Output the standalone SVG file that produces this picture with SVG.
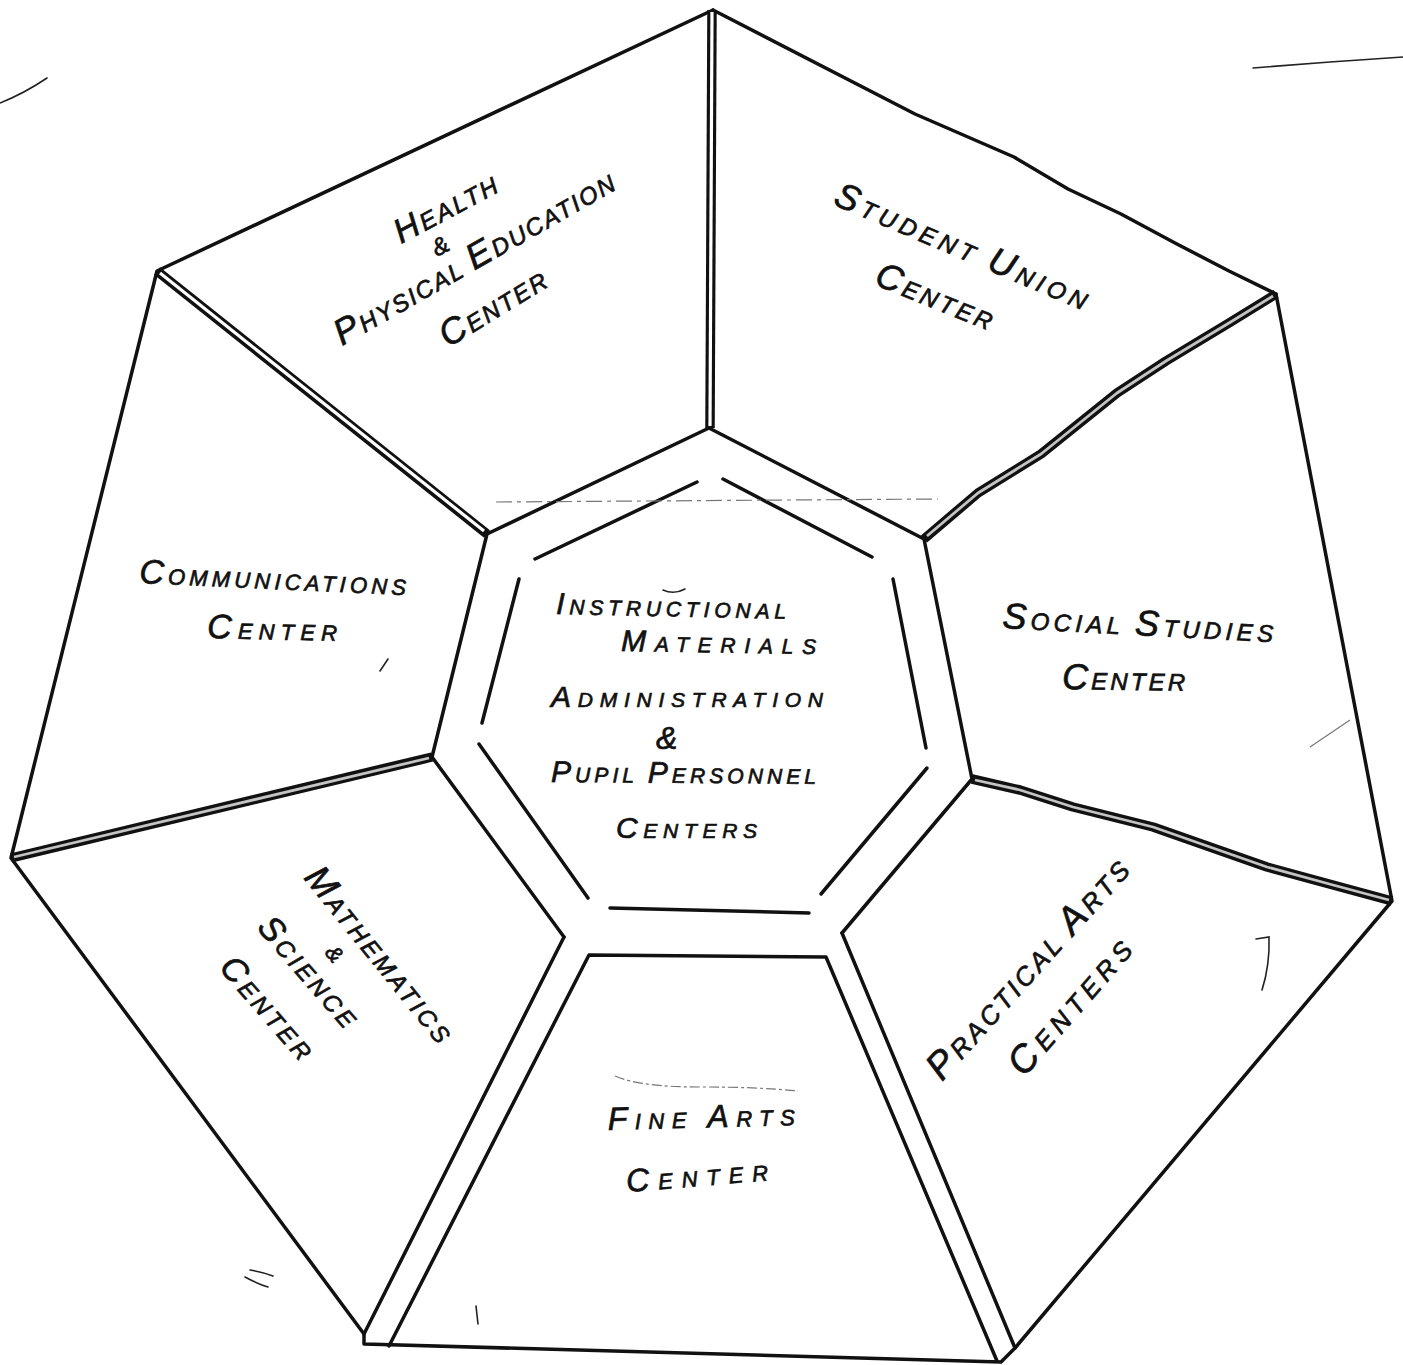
<svg xmlns="http://www.w3.org/2000/svg" width="1403" height="1365" viewBox="0 0 1403 1365">
<style>
.edge{fill:none;stroke:#111;stroke-width:3.5;stroke-linejoin:round;stroke-linecap:round}
.wall{fill:none;stroke:#111;stroke-width:9.5;stroke-linejoin:round}
.gap{fill:none;stroke:#fff;stroke-width:3.2;stroke-linejoin:round}
.gapg{fill:none;stroke:#c4c4c4;stroke-width:2.8;stroke-linejoin:round}
.mark{fill:none;stroke:#222;stroke-width:1.6;stroke-linecap:round}
.faint{fill:none;stroke:#777;stroke-width:1.2}
.lbl{font-family:"Liberation Sans",Arial,sans-serif;font-style:italic;fill:#111;stroke:#111;stroke-width:0.7}
.s21{font-size:21px}.s22{font-size:22px}.s24{font-size:24px}.s26{font-size:26px}
.b30{font-size:30px}.b32{font-size:32px}.b34{font-size:34px}.b36{font-size:36px}.b38{font-size:38px}
</style>
<rect width="1403" height="1365" fill="#fff"/>

<g id="outline">
  <polyline class="edge" points="713,10 915,114 1014,157 1068,189 1121,214 1175,243 1229,271 1276,294"/>
  <polyline class="edge" points="1276,294 1392,901 1015,1348 1001,1362 364,1344 364,1334 11,858 157,271 713,10"/>
</g>

<g id="center-block">
  <polyline class="edge" points="564,937 432,757 487,534 709,428 924,539 972,779 842,933"/>
  <g id="inner-ring">
    <line class="edge" x1="535" y1="559" x2="697" y2="482"/>
    <line class="edge" x1="723" y1="479" x2="872" y2="557"/>
    <line class="edge" x1="519" y1="579" x2="482" y2="723"/>
    <line class="edge" x1="893" y1="579" x2="926" y2="748"/>
    <line class="edge" x1="479" y1="744" x2="588" y2="898"/>
    <line class="edge" x1="927" y1="768" x2="821" y2="894"/>
    <line class="edge" x1="610" y1="908" x2="809" y2="913"/>
  </g>
</g>

<g id="corridors">
  <line class="edge" x1="564" y1="937" x2="364" y2="1334"/>
  <line class="edge" x1="842" y1="933" x2="1015" y2="1348"/>
  <polyline class="edge" points="389,1346 589,955 826,957 997,1361"/>
</g>

<g id="walls">
  <line class="wall" x1="712" y1="10" x2="710" y2="428"/>
  <line class="gap" x1="712" y1="12" x2="710" y2="426"/>
  <line class="wall" x1="157" y1="271" x2="487" y2="534"/>
  <line class="gap" x1="160" y1="273" x2="484" y2="531"/>
  <line class="wall" x1="11" y1="858" x2="432" y2="757"/>
  <line class="gapg" x1="14" y1="857" x2="429" y2="758"/>
  <polyline class="wall" points="1276,294 1229,323 1166,361 1117,393 1041,454 978,493 924,539"/>
  <polyline class="gapg" points="1273,296 1229,323 1166,361 1117,393 1041,454 978,493 927,536"/>
  <polyline class="wall" points="972,779 1020,790 1073,807 1153,827 1210,847 1267,867 1333,885 1392,901"/>
  <polyline class="gapg" points="975,780 1020,790 1073,807 1153,827 1210,847 1267,867 1333,885 1389,900"/>
</g>

<g id="marks">
  <path class="mark" d="M0,103 Q25,93 47,78"/>
  <path class="mark" d="M1253,68 L1330,62 L1403,57"/>
  <line class="faint" x1="496" y1="502" x2="938" y2="499" stroke-dasharray="16 5 4 5"/>
  <path class="faint" d="M615,1076 Q640,1087 700,1087 T798,1091" stroke-dasharray="10 3 3 3"/>
  <path class="mark" d="M1256,939 L1269,937 Q1270,965 1262,990"/>
  <line class="mark" x1="380" y1="671" x2="388" y2="659"/>
  <line class="faint" x1="1310" y1="747" x2="1350" y2="720"/>
  <path class="mark" d="M245,1277 Q258,1284 268,1287 M250,1270 Q262,1272 273,1276"/>
  <line class="mark" x1="476" y1="1306" x2="478" y2="1324"/>
  <path class="mark" d="M663,590 Q674,595 685,589"/>
</g>

<g id="health-pe">
  <text class="lbl s24" transform="translate(401,244) rotate(-28)" textLength="112" lengthAdjust="spacing"><tspan class="b34">H</tspan>EALTH</text>
  <text class="lbl s24" transform="translate(437,257) rotate(-28)">&amp;</text>
  <text class="lbl s24" transform="translate(342,346) rotate(-29.7)" textLength="317" lengthAdjust="spacing"><tspan class="b36">P</tspan>HYSICAL <tspan class="b36">E</tspan>DUCATION</text>
  <text class="lbl s24" transform="translate(448,348) rotate(-31.5)" textLength="119" lengthAdjust="spacing"><tspan class="b36">C</tspan>ENTER</text>
</g>

<g id="student-union">
  <text class="lbl s24" transform="translate(832,204) rotate(23)" textLength="272" lengthAdjust="spacing"><tspan class="b36">S</tspan>TUDENT <tspan class="b36">U</tspan>NION</text>
  <text class="lbl s24" transform="translate(873,284) rotate(22)" textLength="124" lengthAdjust="spacing"><tspan class="b36">C</tspan>ENTER</text>
</g>

<g id="communications">
  <text class="lbl s22" transform="translate(139,583) rotate(2.6)" textLength="267" lengthAdjust="spacing"><tspan class="b34">C</tspan>OMMUNICATIONS</text>
  <text class="lbl s22" transform="translate(207,638) rotate(1.3)" textLength="130" lengthAdjust="spacing"><tspan class="b34">C</tspan>ENTER</text>
</g>

<g id="social-studies">
  <text class="lbl s24" transform="translate(1002,628) rotate(3)" textLength="271" lengthAdjust="spacing"><tspan class="b36">S</tspan>OCIAL <tspan class="b36">S</tspan>TUDIES</text>
  <text class="lbl s24" transform="translate(1062,689) rotate(0.8)" textLength="123" lengthAdjust="spacing"><tspan class="b36">C</tspan>ENTER</text>
</g>

<g id="central">
  <text class="lbl s21" transform="translate(556,614) rotate(1.2)" textLength="230" lengthAdjust="spacing"><tspan class="b30">I</tspan>NSTRUCTIONAL</text>
  <text class="lbl s21" transform="translate(621,651) rotate(0.9)" textLength="195" lengthAdjust="spacing"><tspan class="b30">M</tspan>ATERIALS</text>
  <text class="lbl s21" transform="translate(551,707)" textLength="272" lengthAdjust="spacing"><tspan class="b30">A</tspan>DMINISTRATION</text>
  <text class="lbl b32" x="656" y="749">&amp;</text>
  <text class="lbl s21" transform="translate(551,782) rotate(0.4)" textLength="265" lengthAdjust="spacing"><tspan class="b30">P</tspan>UPIL <tspan class="b30">P</tspan>ERSONNEL</text>
  <text class="lbl s21" transform="translate(616,838)" textLength="141" lengthAdjust="spacing"><tspan class="b30">C</tspan>ENTERS</text>
</g>

<g id="math-science">
  <text class="lbl s24" transform="translate(303,878) rotate(51)" textLength="215" lengthAdjust="spacing"><tspan class="b36">M</tspan>ATHEMATICS</text>
  <text class="lbl s22" transform="translate(324,953) rotate(50)">&amp;</text>
  <text class="lbl s24" transform="translate(256,928) rotate(49)" textLength="135" lengthAdjust="spacing"><tspan class="b34">S</tspan>CIENCE</text>
  <text class="lbl s24" transform="translate(218,968) rotate(49)" textLength="125" lengthAdjust="spacing"><tspan class="b34">C</tspan>ENTER</text>
</g>

<g id="practical-arts">
  <text class="lbl s26" transform="translate(942,1082) rotate(-48)" textLength="283" lengthAdjust="spacing"><tspan class="b38">P</tspan>RACTICAL <tspan class="b38">A</tspan>RTS</text>
  <text class="lbl s26" transform="translate(1024,1078) rotate(-49)" textLength="168" lengthAdjust="spacing"><tspan class="b38">C</tspan>ENTERS</text>
</g>

<g id="fine-arts">
  <text class="lbl s22" transform="translate(608,1130) rotate(-1.5)" textLength="187" lengthAdjust="spacing"><tspan class="b32">F</tspan>INE <tspan class="b32">A</tspan>RTS</text>
  <text class="lbl s22" transform="translate(627,1192) rotate(-4.7)" textLength="142" lengthAdjust="spacing"><tspan class="b32">C</tspan>ENTER</text>
</g>
</svg>
